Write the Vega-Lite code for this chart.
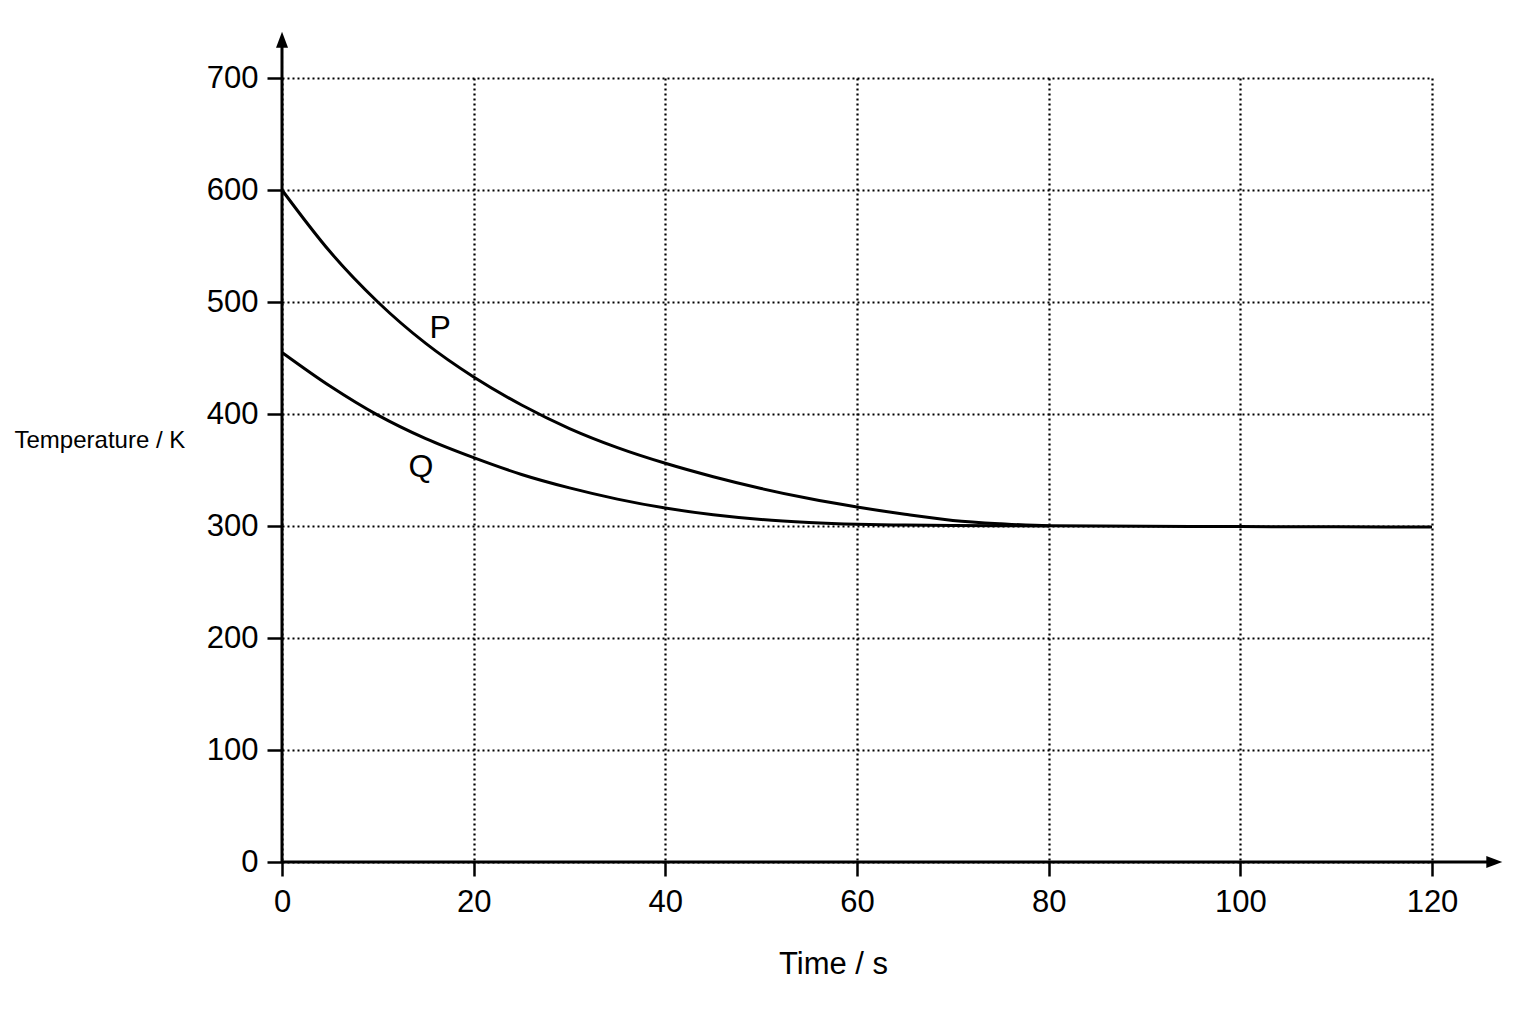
{
  "$schema": "https://vega.github.io/schema/vega-lite/v6.json",
  "width": 1150,
  "height": 784,
  "autosize": {"type": "none"},
  "padding": {"left": 282, "top": 78, "right": 104, "bottom": 162},
  "background": "white",
  "config": {"view": {"stroke": null}, "font": "Liberation Sans, Arial, sans-serif"},
  "datasets": {
    "curves": [
      {"series": "P", "t": 0, "T": 600},
      {"series": "P", "t": 5, "T": 545},
      {"series": "P", "t": 10, "T": 500},
      {"series": "P", "t": 15, "T": 463},
      {"series": "P", "t": 20, "T": 433},
      {"series": "P", "t": 25, "T": 408},
      {"series": "P", "t": 30, "T": 387},
      {"series": "P", "t": 35, "T": 370},
      {"series": "P", "t": 40, "T": 356},
      {"series": "P", "t": 45, "T": 344},
      {"series": "P", "t": 50, "T": 333.5},
      {"series": "P", "t": 55, "T": 324.5},
      {"series": "P", "t": 60, "T": 317},
      {"series": "P", "t": 65, "T": 310.5},
      {"series": "P", "t": 70, "T": 305},
      {"series": "P", "t": 75, "T": 302},
      {"series": "P", "t": 80, "T": 300.2},
      {"series": "P", "t": 90, "T": 299.8},
      {"series": "P", "t": 100, "T": 299.5},
      {"series": "P", "t": 110, "T": 299.3},
      {"series": "P", "t": 120, "T": 299},
      {"series": "Q", "t": 0, "T": 455},
      {"series": "Q", "t": 5, "T": 425},
      {"series": "Q", "t": 10, "T": 399},
      {"series": "Q", "t": 15, "T": 378},
      {"series": "Q", "t": 20, "T": 361},
      {"series": "Q", "t": 25, "T": 346},
      {"series": "Q", "t": 30, "T": 334},
      {"series": "Q", "t": 35, "T": 324},
      {"series": "Q", "t": 40, "T": 316},
      {"series": "Q", "t": 45, "T": 310},
      {"series": "Q", "t": 50, "T": 305.8},
      {"series": "Q", "t": 55, "T": 303.2},
      {"series": "Q", "t": 60, "T": 301.6},
      {"series": "Q", "t": 65, "T": 300.8},
      {"series": "Q", "t": 70, "T": 300.4},
      {"series": "Q", "t": 75, "T": 300.2},
      {"series": "Q", "t": 80, "T": 300.1}
    ],
    "labels": [
      {"t": 16.5, "T": 477, "label": "P"},
      {"t": 14.5, "T": 353, "label": "Q"}
    ],
    "axislines": [
      {"t": 0, "T": 0, "t2": 126.5, "T2": 0},
      {"t": 0, "T": 0, "t2": 0, "T2": 734}
    ],
    "arrows": [
      {"t": 126.5, "T": 0, "dir": "x"},
      {"t": 0, "T": 734.2, "dir": "y"}
    ]
  },
  "encoding": {
    "x": {
      "field": "t", "type": "quantitative",
      "scale": {"domain": [0, 120], "nice": false, "zero": false},
      "axis": {
        "values": [0, 20, 40, 60, 80, 100, 120],
        "domain": false,
        "grid": true, "gridColor": "black", "gridDash": [2, 3], "gridWidth": 2.2, "gridOpacity": 1,
        "ticks": true, "tickColor": "black", "tickSize": 14, "tickWidth": 2.5,
        "labelFontSize": 31, "labelColor": "black", "labelPadding": 11, "labelFlush": false, "labelOverlap": false,
        "title": "Time / s", "titleFontSize": 31, "titleFontWeight": "normal", "titleColor": "black",
        "titleX": 551, "titleY": 111, "titleAlign": "center", "titleBaseline": "alphabetic"
      }
    },
    "y": {
      "field": "T", "type": "quantitative",
      "scale": {"domain": [0, 700], "nice": false, "zero": false},
      "axis": {
        "values": [0, 100, 200, 300, 400, 500, 600, 700],
        "domain": false,
        "grid": true, "gridColor": "black", "gridDash": [2, 3], "gridWidth": 2.2, "gridOpacity": 1,
        "ticks": true, "tickColor": "black", "tickSize": 15, "tickWidth": 2.5,
        "labelFontSize": 31, "labelColor": "black", "labelPadding": 9, "labelFlush": false, "labelOverlap": false,
        "title": "Temperature / K", "titleFontSize": 24, "titleFontWeight": "normal", "titleColor": "black",
        "titleAngle": 0, "titleX": -268, "titleY": 362, "titleAlign": "left", "titleBaseline": "middle"
      }
    }
  },
  "layer": [
    {
      "data": {"name": "curves"},
      "mark": {"type": "line", "interpolate": "monotone", "color": "black", "strokeWidth": 3},
      "encoding": {"detail": {"field": "series"}}
    },
    {
      "data": {"name": "axislines"},
      "mark": {"type": "rule", "color": "black", "strokeWidth": 3},
      "encoding": {"x2": {"field": "t2"}, "y2": {"field": "T2"}}
    },
    {
      "data": {"name": "arrows"},
      "mark": {"type": "point", "filled": true, "color": "black", "size": 256, "strokeWidth": 0, "opacity": 1},
      "encoding": {
        "shape": {
          "field": "dir", "type": "nominal",
          "scale": {"domain": ["x", "y"], "range": ["M1,0L-1,-0.75L-1,0.75Z", "M0,-1L-0.75,1L0.75,1Z"]},
          "legend": null
        }
      }
    },
    {
      "data": {"name": "labels"},
      "mark": {"type": "text", "fontSize": 32, "color": "black", "align": "center", "baseline": "middle"},
      "encoding": {"text": {"field": "label"}}
    }
  ]
}
